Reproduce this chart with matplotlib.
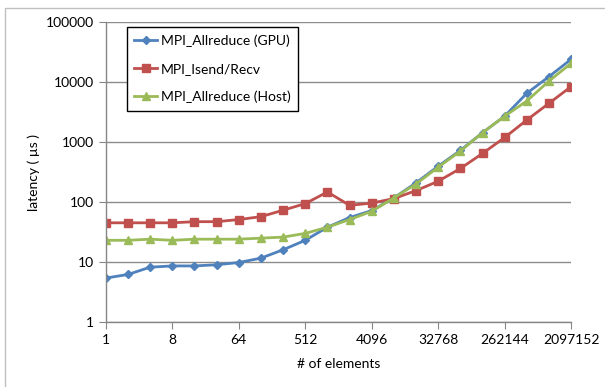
import numpy as np
import matplotlib.pyplot as plt
from matplotlib.patches import Rectangle

plt.rcParams['font.family'] = ['Lato', 'DejaVu Sans']

# message sizes: powers of two from 1 to 2^21
elements = [2 ** k for k in range(22)]

gpu_allreduce = [5.4, 6.2, 8.2, 8.6, 8.6, 9.0, 9.8, 11.6, 16, 23, 38, 55,
                 72, 117, 209, 395, 725, 1430, 2700, 6500, 12300, 24000]
isend_recv = [45, 45, 45, 45, 47, 47, 51, 57, 73, 94, 147, 88,
              96, 114, 155, 222, 362, 645, 1190, 2330, 4420, 8400]
host_allreduce = [23, 23, 24, 23, 24, 24, 24, 25, 26, 30, 38, 51,
                  70, 117, 200, 380, 705, 1430, 2700, 4830, 10400, 20500]

x_ticks = [1, 8, 64, 512, 4096, 32768, 262144, 2097152]
y_ticks = [1, 10, 100, 1000, 10000, 100000]

fig = plt.figure(figsize=(6.05, 3.87), dpi=100)
ax = fig.add_axes([0.175, 0.168, 0.769, 0.775])

ax.plot(elements, gpu_allreduce, color='#4F81BD', marker='D', markersize=4.5,
        linewidth=2, label='MPI_Allreduce (GPU)')
ax.plot(elements, isend_recv, color='#C0504D', marker='s', markersize=6,
        linewidth=2, label='MPI_Isend/Recv')
ax.plot(elements, host_allreduce, color='#9BBB59', marker='^', markersize=6,
        linewidth=2, label='MPI_Allreduce (Host)')

ax.set_xscale('log', base=2)
ax.set_yscale('log')
ax.set_xlim(1, 2 ** 21)
ax.set_ylim(1, 100000)
ax.set_xticks(x_ticks)
ax.set_xticklabels([str(v) for v in x_ticks])
ax.set_yticks(y_ticks)
ax.set_yticklabels([str(v) for v in y_ticks])
ax.minorticks_off()

ax.yaxis.grid(True, color='#8c8c8c', linewidth=1)
ax.set_axisbelow(True)
for side in ['top', 'right']:
    ax.spines[side].set_visible(False)
for side in ['left', 'bottom']:
    ax.spines[side].set_color('#868686')
    ax.spines[side].set_linewidth(1)
ax.tick_params(axis='both', colors='#868686', labelcolor='black',
               labelsize=10, length=5, direction='out')

ax.set_xlabel('# of elements', fontsize=10, labelpad=9)
ax.set_ylabel('latency ( µs )', fontsize=10)

leg = ax.legend(loc='upper left', bbox_to_anchor=(0.045, 0.985), fontsize=10,
                fancybox=False, edgecolor='black', framealpha=1,
                handlelength=1.6, handletextpad=0.3, labelspacing=1.15,
                borderpad=0.55, borderaxespad=0)
leg.get_frame().set_linewidth(1)

# light outer chart-area frame (top and left visible)
fig.patches.append(Rectangle((5 / 605, -0.1), 1.2, 1.1 - 8 / 387,
                             transform=fig.transFigure, fill=False,
                             edgecolor='#bfbfbf', linewidth=1))

fig.savefig('out.png', dpi=100)
